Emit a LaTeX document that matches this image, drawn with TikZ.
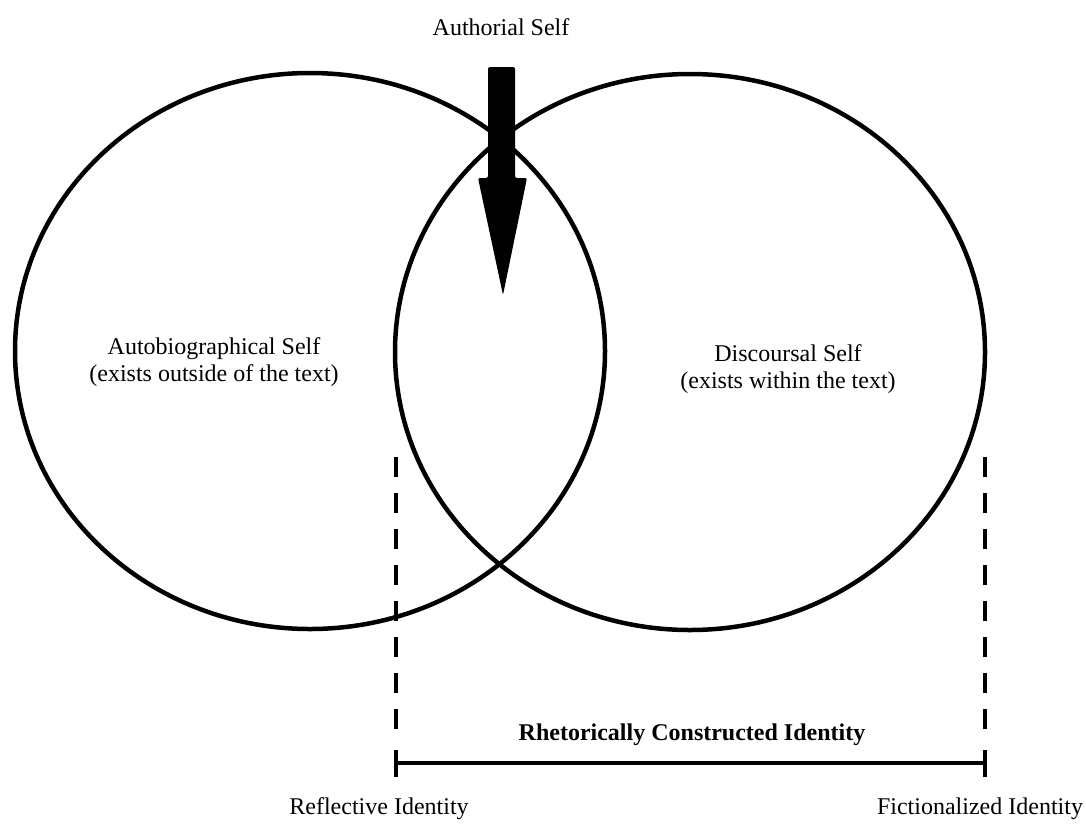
\documentclass[tikz,border=0pt]{standalone}
\usepackage{fontspec}
\setmainfont{Liberation Serif}
\usetikzlibrary{shapes.geometric}
\tikzset{
  selfcircle/.style={ellipse, draw, line width=4.5pt, inner sep=0pt, outer sep=0pt,
    minimum width=590pt, minimum height=556pt},
  lbl/.style={font=\fontsize{24}{27}\selectfont, inner sep=0pt, align=center},
  boldlbl/.style={lbl, font=\fontsize{24}{27}\selectfont\bfseries},
  dashv/.style={line width=4.5pt, dash pattern=on 20pt off 16pt},
  spanline/.style={line width=3.5pt},
  tickmark/.style={line width=4.5pt},
  bigarrow/.style={fill=black, rounded corners=2pt}
}
\begin{document}
\begin{tikzpicture}[x=1pt,y=-1pt]
\useasboundingbox (0,0) rectangle (1086,823);
\fill[white] (0,0) rectangle (1086,823);

% circles
\node[selfcircle] (autoC) at (310,351) {};
\node[selfcircle] (discC) at (690,352) {};

% circle texts
\node[lbl] (autoT) at (214,362) {Autobiographical Self\\(exists outside of the text)};
\node[lbl] (discT) at (788,369) {Discoursal Self\\(exists within the text)};

% authorial self + arrow
\node[lbl, anchor=base] (auth) at (501,35) {Authorial Self};
\coordinate (arrowtop) at (501,67);
\coordinate (arrowtip) at (503,295);
\fill[bigarrow] (488,67) -- (515,67) -- (515,178) -- (527,178) -- (arrowtip)
  -- (478,178) -- (488,178) -- cycle;

% dashed guides
\coordinate (dL1) at (396,457);
\coordinate (dL2) at (396,735);
\coordinate (dR1) at (985,457);
\coordinate (dR2) at (985,735);
\draw[dashv] (dL1) -- (dL2);
\draw[dashv] (dR1) -- (dR2);

% span line
\coordinate (sL) at (396,763);
\coordinate (sR) at (985,763);
\draw[spanline] (sL) -- (sR);
\draw[tickmark] (396,750) -- (396,777);
\draw[tickmark] (985,750) -- (985,777);

% labels
\node[boldlbl, anchor=base] (rci) at (692,740) {Rhetorically Constructed Identity};
\node[lbl, anchor=base] (refl) at (379,814) {Reflective Identity};
\node[lbl, anchor=base] (fict) at (980,814) {Fictionalized Identity};
\end{tikzpicture}
\end{document}
